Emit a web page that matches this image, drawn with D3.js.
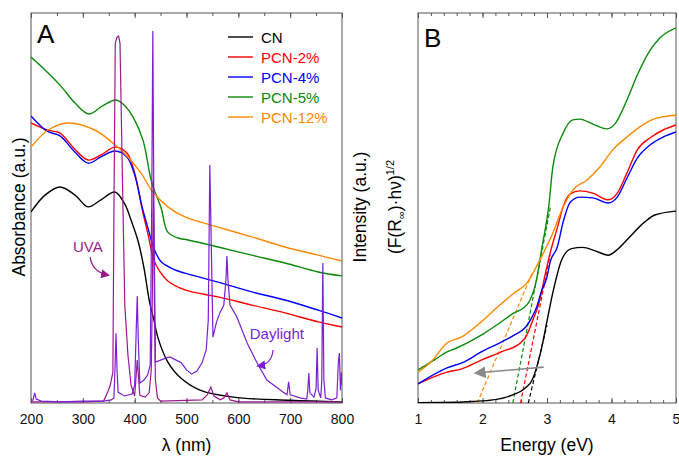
<!DOCTYPE html>
<html>
<head>
<meta charset="utf-8">
<script src="https://cdn.jsdelivr.net/npm/d3@7"></script>
<style>
  body { margin: 0; background: #fff; }
  text { font-family: "Liberation Sans", Arial, sans-serif; }
</style>
</head>
<body>
<svg id="chart" width="679" height="456"></svg>
<script>
// ---- data: panel A (absorbance vs wavelength, nm) ----
const seriesNames = ["CN", "PCN-2%", "PCN-4%", "PCN-5%", "PCN-12%"];
const seriesColors = ["#000000", "#ff0000", "#0000ff", "#0a8a0a", "#ff8800"];

const absCN = [[200,0.490],[227,0.533],[256,0.554],[285,0.533],[310,0.503],[335,0.521],[362,0.541],[381,0.510],[393,0.469],[406,0.418],[418,0.346],[428,0.264],[437,0.213],[445,0.167],[464,0.105],[489,0.064],[526,0.033],[590,0.015],[700,0.007],[800,0.003]];
const absP2 = [[200,0.718],[231,0.700],[256,0.692],[281,0.656],[310,0.623],[335,0.636],[362,0.656],[385,0.641],[400,0.590],[414,0.500],[426,0.431],[437,0.367],[449,0.336],[464,0.313],[497,0.290],[561,0.272],[626,0.251],[690,0.231],[754,0.208],[800,0.195]];
const absP4 = [[200,0.736],[231,0.697],[256,0.685],[281,0.649],[310,0.615],[335,0.631],[362,0.646],[385,0.631],[400,0.585],[414,0.505],[426,0.447],[437,0.397],[451,0.362],[478,0.341],[497,0.333],[561,0.310],[626,0.285],[690,0.264],[754,0.238],[800,0.218]];
const absP5 = [[200,0.887],[227,0.854],[256,0.815],[285,0.769],[312,0.741],[338,0.762],[364,0.777],[381,0.762],[397,0.733],[416,0.674],[433,0.565],[451,0.500],[464,0.438],[484,0.423],[503,0.418],[561,0.400],[626,0.379],[690,0.359],[754,0.336],[800,0.326]];
const absP12 = [[200,0.656],[233,0.700],[271,0.718],[323,0.700],[362,0.662],[387,0.631],[412,0.590],[435,0.541],[464,0.503],[497,0.477],[561,0.451],[626,0.426],[690,0.400],[754,0.379],[800,0.364]];

// lamp emission spectra (relative intensity)
const uvaSpec = [[200,0.003],[300,0.003],[340,0.005],[348,0.028],[353,0.046],[358,0.079],[360,0.495],[362.6,0.923],[366,0.938],[369,0.941],[371.7,0.923],[377.5,0.495],[381,0.251],[387,0.123],[393,0.046],[400,0.018],[405,0.11],[410,0.02],[420,0.015],[428,0.026],[432,0.085],[434,0.264],[436,0.572],[438,0.264],[440,0.059],[444,0.013],[450,0.005],[530,0.008],[540,0.021],[547,0.041],[553,0.018],[565,0.008],[572,0.013],[578,0.026],[584,0.008],[600,0.003],[800,0.003]];
const dayLightSpec = [[200,0.005],[204,0.008],[207,0.026],[210,0.010],[220,0.005],[260,0.003],[300,0.005],[340,0.005],[355,0.008],[360,0.013],[362,0.085],[364,0.179],[366,0.085],[368,0.028],[380,0.018],[395,0.023],[400,0.046],[403,0.187],[405,0.274],[407,0.162],[410,0.051],[418,0.059],[425,0.072],[430,0.097],[433,0.521],[435,0.954],[437,0.521],[440,0.105],[450,0.110],[460,0.115],[468,0.118],[480,0.110],[490,0.103],[500,0.085],[510,0.074],[520,0.082],[530,0.103],[538,0.136],[542,0.213],[545,0.610],[548,0.392],[551,0.169],[558,0.208],[565,0.233],[572,0.251],[576,0.315],[578,0.377],[580,0.315],[584,0.251],[597,0.221],[617,0.154],[636,0.103],[655,0.059],[686,0.028],[694,0.021],[697,0.054],[700,0.021],[719,0.013],[732,0.010],[734,0.033],[736,0.077],[738,0.026],[746,0.015],[750,0.038],[752,0.141],[754,0.033],[759,0.013],[761,0.059],[763,0.359],[765,0.059],[768,0.013],[780,0.008],[790,0.013],[793,0.105],[795,0.128],[797,0.033],[799,0.079],[800,0.046]];

// ---- data: panel B (Tauc plot vs photon energy, eV) ----
const taucCN = [[1.00,0.001],[1.60,0.002],[1.85,0.004],[2.16,0.008],[2.47,0.021],[2.66,0.038],[2.77,0.059],[2.84,0.092],[2.92,0.144],[3.00,0.210],[3.10,0.290],[3.23,0.368],[3.38,0.396],[3.55,0.399],[3.75,0.390],[3.95,0.379],[4.10,0.395],[4.26,0.422],[4.52,0.465],[4.67,0.482],[5.00,0.492]];
const taucP2 = [[1.00,0.049],[1.45,0.079],[1.67,0.087],[1.98,0.110],[2.29,0.131],[2.60,0.156],[2.67,0.169],[2.77,0.208],[2.88,0.259],[2.98,0.336],[3.06,0.392],[3.16,0.449],[3.25,0.503],[3.36,0.536],[3.51,0.544],[3.71,0.538],[3.95,0.521],[4.09,0.538],[4.24,0.590],[4.40,0.649],[4.60,0.680],[4.80,0.700],[5.00,0.713]];
const taucP4 = [[1.00,0.049],[1.45,0.090],[1.71,0.105],[1.98,0.131],[2.29,0.156],[2.49,0.174],[2.67,0.195],[2.77,0.221],[2.84,0.246],[2.91,0.285],[3.00,0.323],[3.05,0.362],[3.16,0.400],[3.25,0.464],[3.36,0.515],[3.51,0.528],[3.71,0.526],[3.95,0.513],[4.09,0.528],[4.24,0.577],[4.40,0.628],[4.60,0.662],[4.80,0.682],[5.00,0.695]];
const taucP5 = [[1.00,0.085],[1.25,0.110],[1.45,0.131],[1.60,0.141],[1.98,0.174],[2.22,0.200],[2.49,0.231],[2.64,0.244],[2.72,0.259],[2.83,0.310],[2.92,0.397],[3.03,0.508],[3.09,0.605],[3.25,0.692],[3.40,0.726],[3.51,0.728],[3.71,0.715],[3.93,0.703],[4.05,0.715],[4.24,0.777],[4.40,0.841],[4.60,0.905],[4.75,0.936],[5.00,0.962]];
const taucP12 = [[1.00,0.079],[1.20,0.105],[1.45,0.154],[1.67,0.169],[1.98,0.208],[2.22,0.244],[2.49,0.282],[2.69,0.308],[2.89,0.367],[3.09,0.436],[3.23,0.495],[3.40,0.546],[3.62,0.572],[3.82,0.605],[4.02,0.649],[4.24,0.682],[4.44,0.708],[4.71,0.731],[5.00,0.738]];

// band-gap tangent lines (order: CN, PCN-2%, PCN-5%, PCN-12%)
const tangentLines = [
  { color: "#000000", pts: [[2.71,0],[3.00,0.20]] },
  { color: "#ff0000", pts: [[2.59,0],[3.05,0.38]] },
  { color: "#0a8a0a", pts: [[2.47,0],[3.06,0.508]] },
  { color: "#ff8800", pts: [[1.92,0],[2.77,0.333]] }
];
const shiftArrow = [[2.95,0.092],[1.90,0.077]];

// tick labels
const ticksA = [200, 300, 400, 500, 600, 700, 800];
const ticksB = [1, 2, 3, 4, 5];

const uvaColor = "#9c1a8e";
const dayColor = "#7a1fd4";

// ---- layout ----
const svg = d3.select("#chart");
const plotTop = 13, plotBottom = 403;
const xA = d3.scaleLinear().domain([200, 800]).range([31, 342]);
const xB = d3.scaleLinear().domain([1, 5]).range([418, 676]);
const y = d3.scaleLinear().domain([0, 1]).range([plotBottom, plotTop]);

const defs = svg.append("defs");
defs.append("clipPath").attr("id", "clipA").append("rect")
  .attr("x", 31).attr("y", plotTop).attr("width", 311).attr("height", plotBottom - plotTop);
defs.append("clipPath").attr("id", "clipB").append("rect")
  .attr("x", 418).attr("y", plotTop).attr("width", 258).attr("height", plotBottom - plotTop);

function addMarker(id, color, size) {
  defs.append("marker")
    .attr("id", id)
    .attr("viewBox", "0 -5 10 10")
    .attr("refX", 8).attr("refY", 0)
    .attr("markerWidth", size).attr("markerHeight", size)
    .attr("markerUnits", "userSpaceOnUse")
    .attr("orient", "auto")
    .append("path").attr("d", "M0,-5L10,0L0,5Z").attr("fill", color);
}
addMarker("arrUVA", uvaColor, 9);
addMarker("arrDay", dayColor, 9);
addMarker("arrGray", "#8a8a8a", 12);

function drawAxes(x, majors, minorStep, left, right) {
  const dom = x.domain();
  const minors = d3.range(dom[0], dom[1] + minorStep / 2, minorStep);
  const g = svg.append("g");
  // bottom major with labels
  g.append("g")
    .attr("transform", `translate(0,${plotBottom})`)
    .call(d3.axisBottom(x).tickValues(majors).tickSize(-5).tickPadding(11).tickFormat(d3.format("d")))
    .call(s => s.select(".domain").remove())
    .call(s => s.selectAll("text").attr("font-size", 14).attr("fill", "#111").style("font-family", "Liberation Sans, Arial"));
  g.append("g")
    .attr("transform", `translate(0,${plotBottom})`)
    .call(d3.axisBottom(x).tickValues(minors).tickSize(-3).tickFormat(""))
    .call(s => s.select(".domain").remove());
  g.append("g")
    .attr("transform", `translate(0,${plotTop})`)
    .call(d3.axisTop(x).tickValues(majors).tickSize(-5).tickFormat(""))
    .call(s => s.select(".domain").remove());
  g.append("g")
    .attr("transform", `translate(0,${plotTop})`)
    .call(d3.axisTop(x).tickValues(minors).tickSize(-3).tickFormat(""))
    .call(s => s.select(".domain").remove());
  g.selectAll(".tick line").attr("stroke", "#555");
  g.append("rect")
    .attr("x", left).attr("y", plotTop)
    .attr("width", right - left).attr("height", plotBottom - plotTop)
    .attr("fill", "none").attr("stroke", "#555").attr("stroke-width", 1);
}

drawAxes(xA, ticksA, 50, 31, 342);
drawAxes(xB, ticksB, 0.2, 418, 676);

// ---- panel A ----
const gA = svg.append("g").attr("clip-path", "url(#clipA)");
const lineA = d3.line().x(d => xA(d[0])).y(d => y(d[1])).curve(d3.curveCatmullRom.alpha(0.5));
const specLine = d3.line().x(d => xA(d[0])).y(d => y(d[1]));

[absCN, absP2, absP4, absP5, absP12].forEach((s, i) => {
  gA.append("path").datum(s)
    .attr("d", lineA).attr("fill", "none")
    .attr("stroke", seriesColors[i]).attr("stroke-width", 1.4);
});

gA.append("path").datum(uvaSpec)
  .attr("d", specLine).attr("fill", "none")
  .attr("stroke", uvaColor).attr("stroke-width", 1.2);
gA.append("path").datum(dayLightSpec)
  .attr("d", specLine).attr("fill", "none")
  .attr("stroke", dayColor).attr("stroke-width", 1.2);

// annotations
svg.append("text").attr("x", xA(281)).attr("y", y(0.387))
  .attr("font-size", 15).attr("fill", uvaColor).text("UVA");
svg.append("path")
  .datum([[314, 0.374], [318, 0.336], [349, 0.328]])
  .attr("d", d => `M${xA(d[0][0])},${y(d[0][1])}Q${xA(d[1][0])},${y(d[1][1])} ${xA(d[2][0])},${y(d[2][1])}`)
  .attr("fill", "none").attr("stroke", uvaColor).attr("stroke-width", 1.2)
  .attr("marker-end", "url(#arrUVA)");

svg.append("text").attr("x", xA(622)).attr("y", y(0.164))
  .attr("font-size", 15).attr("fill", dayColor).text("Daylight");
svg.append("path")
  .datum([[667, 0.136], [665, 0.100], [638, 0.095]])
  .attr("d", d => `M${xA(d[0][0])},${y(d[0][1])}Q${xA(d[1][0])},${y(d[1][1])} ${xA(d[2][0])},${y(d[2][1])}`)
  .attr("fill", "none").attr("stroke", dayColor).attr("stroke-width", 1.2)
  .attr("marker-end", "url(#arrDay)");

// legend
const legend = svg.append("g");
seriesNames.forEach((name, i) => {
  const ly = 37 + i * 20;
  legend.append("line").attr("x1", 228).attr("x2", 253).attr("y1", ly).attr("y2", ly)
    .attr("stroke", seriesColors[i]).attr("stroke-width", 1.4);
  legend.append("text").attr("x", 261).attr("y", ly + 5.5)
    .attr("font-size", 15).attr("fill", seriesColors[i]).text(name);
});

svg.append("text").attr("x", 37).attr("y", 43).attr("font-size", 26).text("A");

// ---- panel B ----
const gB = svg.append("g").attr("clip-path", "url(#clipB)");
const lineB = d3.line().x(d => xB(d[0])).y(d => y(d[1])).curve(d3.curveMonotoneX);
const straightB = d3.line().x(d => xB(d[0])).y(d => y(d[1]));

tangentLines.forEach(t => {
  gB.append("path").datum(t.pts)
    .attr("d", straightB).attr("fill", "none")
    .attr("stroke", t.color).attr("stroke-width", 1.2).attr("stroke-dasharray", "4,2.5");
});

[taucCN, taucP2, taucP4, taucP5, taucP12].forEach((s, i) => {
  gB.append("path").datum(s)
    .attr("d", lineB).attr("fill", "none")
    .attr("stroke", seriesColors[i]).attr("stroke-width", 1.4);
});

gB.append("path").datum(shiftArrow)
  .attr("d", straightB).attr("fill", "none")
  .attr("stroke", "#8a8a8a").attr("stroke-width", 1.6)
  .attr("marker-end", "url(#arrGray)");

svg.append("text").attr("x", 424).attr("y", 47).attr("font-size", 26).text("B");

// ---- axis titles ----
svg.append("text").attr("x", (31 + 342) / 2).attr("y", 451)
  .attr("text-anchor", "middle").attr("font-size", 17.5).text("λ (nm)");
svg.append("text").attr("x", (418 + 676) / 2).attr("y", 451)
  .attr("text-anchor", "middle").attr("font-size", 17.5).text("Energy (eV)");

svg.append("text").attr("transform", "rotate(-90)")
  .attr("x", -207).attr("y", 25)
  .attr("text-anchor", "middle").attr("font-size", 17.5).text("Absorbance (a.u.)");
svg.append("text").attr("transform", "rotate(-90)")
  .attr("x", -207).attr("y", 366)
  .attr("text-anchor", "middle").attr("font-size", 17.5).text("Intensity (a.u.)");

const fr = svg.append("text").attr("transform", "rotate(-90)")
  .attr("x", -207).attr("y", 401)
  .attr("text-anchor", "middle").attr("font-size", 17.5);
fr.append("tspan").text("(F(R");
fr.append("tspan").attr("font-size", 11).attr("dy", 4).text("∞");
fr.append("tspan").attr("dy", -4).text(")·hν)");
fr.append("tspan").attr("font-size", 11).attr("dy", -7).text("1/2");
</script>
</body>
</html>
